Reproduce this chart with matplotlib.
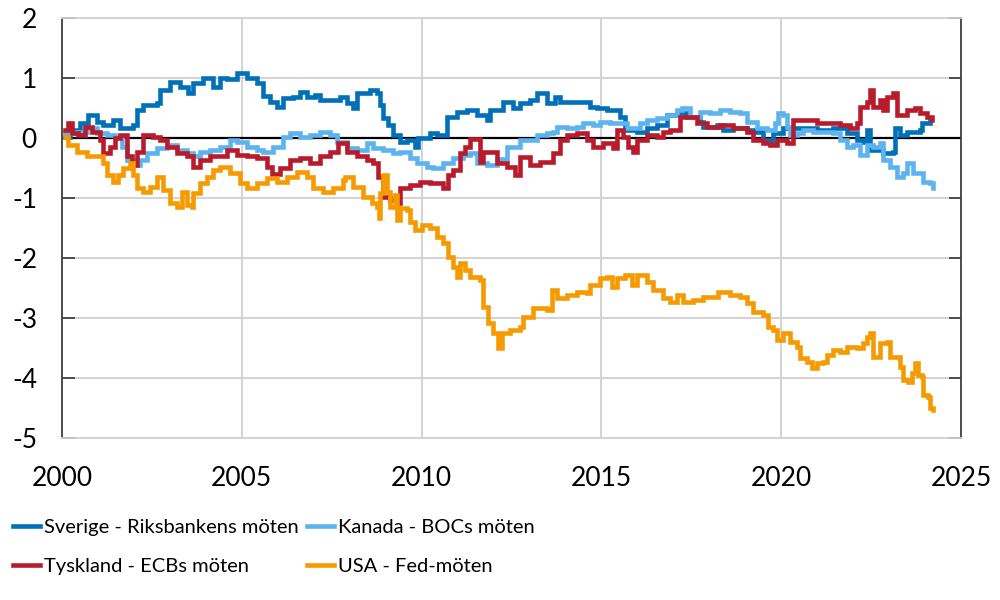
import numpy as np
import matplotlib
matplotlib.use("Agg")
import matplotlib.pyplot as plt

plt.rcParams['font.family'] = ['Lato', 'DejaVu Sans']
plt.rcParams['axes.unicode_minus'] = False

# (years since 2000, value); each value holds until the next step
sverige_t = [0.08, 0.22, 0.50, 0.72, 0.97, 1.14, 1.42, 1.61, 1.97, 2.09, 2.25, 2.64, 2.73, 3.00,
             3.28, 3.50, 3.64, 3.92, 4.20, 4.39, 4.59, 4.87, 5.14, 5.42, 5.59, 5.78, 5.98, 6.15,
             6.42, 6.62, 6.81, 7.04, 7.17, 7.45, 7.73, 7.93, 8.09, 8.20, 8.57, 8.76, 8.84, 8.93,
             9.07, 9.20, 9.40, 9.59, 9.82, 9.90, 10.23, 10.43, 10.71, 10.98, 11.26, 11.54, 11.82,
             11.90, 12.26, 12.54, 12.74, 13.01, 13.21, 13.49, 13.71, 13.85, 14.32, 14.68, 14.88,
             15.16, 15.52, 15.66, 15.99, 16.27, 16.55, 16.82, 17.10, 17.38, 17.74, 17.83, 18.21,
             18.38, 18.66, 19.05, 19.33, 19.49, 19.69, 19.77, 20.05, 20.52, 21.00, 21.44, 21.83,
             22.11, 22.27, 22.39, 22.47, 22.83, 23.11, 23.16, 23.30, 23.50, 23.86, 23.92, 24.14]
sverige_v = [0.02, 0.13, 0.25, 0.38, 0.27, 0.22, 0.30, 0.17, 0.22, 0.47, 0.55, 0.58, 0.80, 0.93,
             0.85, 0.75, 0.92, 1.00, 0.85, 1.00, 0.98, 1.08, 1.00, 0.92, 0.70, 0.60, 0.52, 0.67,
             0.68, 0.77, 0.68, 0.72, 0.63, 0.63, 0.68, 0.58, 0.50, 0.75, 0.80, 0.75, 0.55, 0.33,
             0.22, 0.05, -0.07, -0.03, -0.15, 0.00, 0.08, 0.05, 0.35, 0.43, 0.47, 0.38, 0.30,
             0.47, 0.60, 0.50, 0.58, 0.63, 0.75, 0.58, 0.68, 0.60, 0.60, 0.52, 0.50,
             0.47, 0.35, 0.13, 0.10, 0.17, 0.22, 0.38, 0.42, 0.35, 0.27, 0.18, 0.22,
             0.13, 0.17, 0.13, 0.10, -0.03, -0.08, 0.08, 0.17, 0.17, 0.13, 0.17, 0.08,
             -0.03, -0.07, 0.13, -0.20, -0.25, -0.23, 0.17, 0.05, 0.10, 0.13, 0.25, 0.30]

kanada_t = [0.08, 0.42, 0.70, 0.97, 1.25, 1.47, 1.67, 1.81, 1.97, 2.17, 2.36, 2.64, 2.92, 3.20,
            3.48, 3.64, 3.84, 4.12, 4.39, 4.67, 4.87, 5.14, 5.42, 5.59, 5.87, 6.15, 6.34, 6.62,
            6.90, 7.17, 7.45, 7.65, 7.93, 8.20, 8.48, 8.65, 8.93, 9.20, 9.40, 9.68, 9.87, 10.15,
            10.32, 10.60, 10.87, 11.15, 11.35, 11.54, 11.82, 12.10, 12.37, 12.74, 13.21, 13.49,
            13.65, 13.77, 14.04, 14.32, 14.49, 14.77, 14.96, 15.24, 15.71, 16.07, 16.27, 16.55,
            16.82, 17.10, 17.24, 17.46, 17.74, 18.02, 18.30, 18.58, 18.85, 19.05, 19.33, 19.60,
            19.83, 19.91, 20.05, 20.16, 20.24, 20.44, 20.61, 20.88, 21.16, 21.44, 21.64, 21.83,
            22.00, 22.19, 22.39, 22.55, 22.75, 22.83, 23.03, 23.22, 23.39, 23.50, 23.67, 23.86,
            23.94, 24.14, 24.22]
kanada_v = [0.08, 0.10, 0.17, 0.08, 0.05, 0.02, -0.15, -0.37, -0.45, -0.37, -0.25, -0.17, -0.12, -0.20,
            -0.25, -0.30, -0.23, -0.20, -0.15, -0.03, -0.07, -0.15, -0.20, -0.23, -0.15, 0.02, 0.08, 0.02,
            0.05, 0.10, 0.05, -0.07, -0.17, -0.20, -0.08, -0.17, -0.20, -0.25, -0.23, -0.33, -0.42, -0.48,
            -0.50, -0.42, -0.33, -0.28, -0.25, -0.42, -0.45, -0.35, -0.15, -0.03, 0.05, 0.08,
            0.10, 0.18, 0.17, 0.18, 0.25, 0.22, 0.27, 0.25, 0.17, 0.25, 0.30, 0.33,
            0.38, 0.47, 0.50, 0.35, 0.43, 0.42, 0.47, 0.43, 0.42, 0.27, 0.17, 0.13,
            0.25, 0.42, 0.38, 0.18, 0.05, 0.08, 0.13, 0.10, 0.10, 0.08, -0.03, -0.15,
            -0.12, -0.28, -0.12, -0.15, -0.08, -0.37, -0.48, -0.65, -0.58, -0.42, -0.58, -0.58,
            -0.73, -0.75, -0.83]

tyskland_t = [0.08, 0.17, 0.28, 0.44, 0.64, 0.83, 1.06, 1.14, 1.33, 1.47, 1.61, 1.81, 1.95, 2.09,
              2.25, 2.53, 2.73, 2.92, 3.20, 3.48, 3.64, 3.84, 4.12, 4.59, 4.87, 5.14, 5.42, 5.70,
              5.84, 6.06, 6.34, 6.62, 6.90, 7.17, 7.45, 7.68, 7.93, 8.20, 8.48, 8.65, 8.79, 8.93,
              9.12, 9.32, 9.40, 9.68, 9.96, 10.23, 10.60, 10.73, 10.87, 11.07, 11.21, 11.35, 11.62,
              11.71, 12.10, 12.37, 12.60, 12.74, 13.01, 13.29, 13.65, 13.85, 14.04, 14.32, 14.60,
              14.77, 15.04, 15.32, 15.43, 15.60, 15.74, 15.88, 15.99, 16.27, 16.55, 16.71, 16.91,
              17.19, 17.66, 17.94, 18.30, 18.66, 19.05, 19.22, 19.49, 19.69, 19.88, 20.16, 20.33,
              21.00, 21.64, 21.91, 22.11, 22.19, 22.39, 22.47, 22.55, 22.75, 22.83, 22.94, 23.11,
              23.22, 23.50, 23.72, 23.86, 24.05, 24.19]
tyskland_v = [0.13, 0.25, 0.08, 0.05, 0.18, 0.10, -0.03, -0.25, -0.15, 0.00, 0.05, -0.30, -0.45, -0.23,
              0.05, 0.02, -0.03, -0.15, -0.25, -0.30, -0.48, -0.37, -0.30, -0.20, -0.28, -0.30, -0.33, -0.48,
              -0.60, -0.50, -0.37, -0.33, -0.42, -0.30, -0.23, -0.08, -0.23, -0.30, -0.37, -0.42, -0.65, -0.98,
              -1.03, -1.08, -0.83, -0.78, -0.73, -0.75, -0.83, -0.62, -0.53, -0.25, -0.15, -0.02, -0.40,
              -0.23, -0.42, -0.48, -0.62, -0.32, -0.45, -0.40, -0.25, -0.03, 0.05, 0.08, -0.03,
              -0.15, -0.08, -0.17, 0.13, 0.02, -0.15, -0.23, -0.03, 0.05, 0.02, 0.10, 0.13,
              0.35, 0.25, 0.18, 0.22, 0.17, 0.10, -0.03, -0.08, -0.12, -0.03, -0.08, 0.30,
              0.25, 0.22, 0.17, 0.25, 0.52, 0.60, 0.80, 0.52, 0.63, 0.47, 0.68, 0.75,
              0.38, 0.47, 0.50, 0.42, 0.35, 0.30]

usa_t = [0.08, 0.17, 0.42, 0.70, 1.14, 1.25, 1.42, 1.56, 1.70, 1.89, 1.97, 2.09, 2.25, 2.45,
         2.64, 2.81, 3.00, 3.20, 3.34, 3.48, 3.62, 3.64, 3.84, 4.03, 4.20, 4.39, 4.67, 4.95,
         5.14, 5.42, 5.70, 5.98, 6.26, 6.54, 6.81, 6.98, 7.26, 7.54, 7.81, 7.87, 8.09, 8.37,
         8.62, 8.76, 8.82, 8.84, 8.93, 9.04, 9.12, 9.26, 9.32, 9.40, 9.59, 9.68, 9.82, 10.01,
         10.23, 10.43, 10.60, 10.73, 10.87, 10.98, 11.07, 11.21, 11.35, 11.62, 11.71, 11.85,
         11.99, 12.12, 12.24, 12.46, 12.74, 12.82, 13.10, 13.49, 13.63, 13.77, 14.04, 14.32,
         14.60, 14.68, 14.96, 15.16, 15.29, 15.43, 15.66, 15.85, 15.99, 16.27, 16.43, 16.71,
         16.91, 17.10, 17.27, 17.55, 17.83, 18.24, 18.58, 18.85, 19.05, 19.22, 19.49, 19.63,
         19.77, 19.88, 20.05, 20.24, 20.44, 20.52, 20.72, 20.86, 21.00, 21.16, 21.27, 21.44,
         21.64, 21.83, 22.11, 22.27, 22.39, 22.47, 22.55, 22.75, 22.94, 23.03, 23.30, 23.39,
         23.53, 23.64, 23.72, 23.80, 23.92, 23.94, 24.08, 24.14, 24.22]
usa_v = [0.02, -0.12, -0.23, -0.30, -0.42, -0.62, -0.73, -0.62, -0.50, -0.42, -0.62, -0.83, -0.90, -0.82,
         -0.65, -0.87, -1.08, -1.15, -0.90, -1.12, -1.15, -0.92, -0.75, -0.65, -0.53, -0.48, -0.58, -0.75,
         -0.83, -0.75, -0.67, -0.73, -0.65, -0.57, -0.65, -0.83, -0.90, -0.83, -0.70, -0.65, -0.82, -0.98,
         -1.08, -1.15, -1.33, -0.92, -0.62, -0.90, -1.15, -0.95, -1.37, -1.17, -1.20, -1.40, -1.53, -1.45,
         -1.50, -1.65, -1.75, -1.98, -2.15, -2.32, -2.08, -2.20, -2.32, -2.37, -2.82, -3.08,
         -3.25, -3.50, -3.25, -3.20, -3.15, -2.98, -2.83, -2.87, -2.53, -2.67, -2.62, -2.57,
         -2.58, -2.45, -2.33, -2.32, -2.48, -2.33, -2.28, -2.45, -2.28, -2.40, -2.53, -2.67,
         -2.73, -2.62, -2.73, -2.70, -2.65, -2.57, -2.62, -2.65, -2.75, -2.90, -2.95, -3.15,
         -3.20, -3.37, -3.25, -3.40, -3.48, -3.67, -3.73, -3.83, -3.75, -3.73, -3.62, -3.53,
         -3.57, -3.48, -3.50, -3.42, -3.32, -3.25, -3.65, -3.42, -3.40, -3.65, -3.82, -4.03,
         -4.07, -3.92, -3.75, -3.95, -3.98, -4.28, -4.32, -4.50, -4.53]

labels = ['Sverige - Riksbankens möten', 'Kanada - BOCs möten',
          'Tyskland - ECBs möten', 'USA - Fed-möten']
colors = ['#0070b8', '#5cb3ee', '#b81c2c', '#f59a00']

fig = plt.figure(figsize=(10, 6), dpi=100)
ax = fig.add_axes([0.062, 0.27, 0.899, 0.70])

series = [(sverige_t, sverige_v), (kanada_t, kanada_v),
          (tyskland_t, tyskland_v), (usa_t, usa_v)]
handles = []
for (t, v), lab, col in zip(series, labels, colors):
    x = 2000 + np.array(t)
    h, = ax.plot(x, v, drawstyle='steps-post', color=col, lw=3.3, label=lab,
                 solid_joinstyle='miter')
    handles.append(h)

ax.axhline(0, color='black', lw=1.6, zorder=1.5)

ax.set_xlim(2000, 2025)
ax.set_ylim(-5, 2)
ax.set_xticks(np.arange(2000, 2026, 5))
ax.set_yticks(np.arange(-5, 3, 1))
ax.grid(True, color='#d0d0d0', lw=1.3)
ax.set_axisbelow(True)

for s in ['top', 'bottom']:
    ax.spines[s].set_color('#d0d0d0')
    ax.spines[s].set_linewidth(1.3)
for s in ['left', 'right']:
    ax.spines[s].set_color('#404040')
    ax.spines[s].set_linewidth(1.3)

ax.tick_params(axis='y', direction='in', left=True, right=True, length=9,
               width=1.3, color='#404040', labelsize=19, pad=18)
ax.tick_params(axis='x', length=0, labelsize=19, pad=20)

# legend order: row 1 Sverige, Kanada; row 2 Tyskland, USA
order = [0, 2, 1, 3]
fig.legend([handles[i] for i in order], [labels[i] for i in order],
           loc='upper left', bbox_to_anchor=(0.013, 1 - 519 / 600), ncol=2,
           frameon=False, fontsize=14.5, handlelength=1.35, handletextpad=0.2,
           columnspacing=0.4, labelspacing=1.1, borderpad=0, borderaxespad=0)

fig.savefig('out.png', dpi=100)
